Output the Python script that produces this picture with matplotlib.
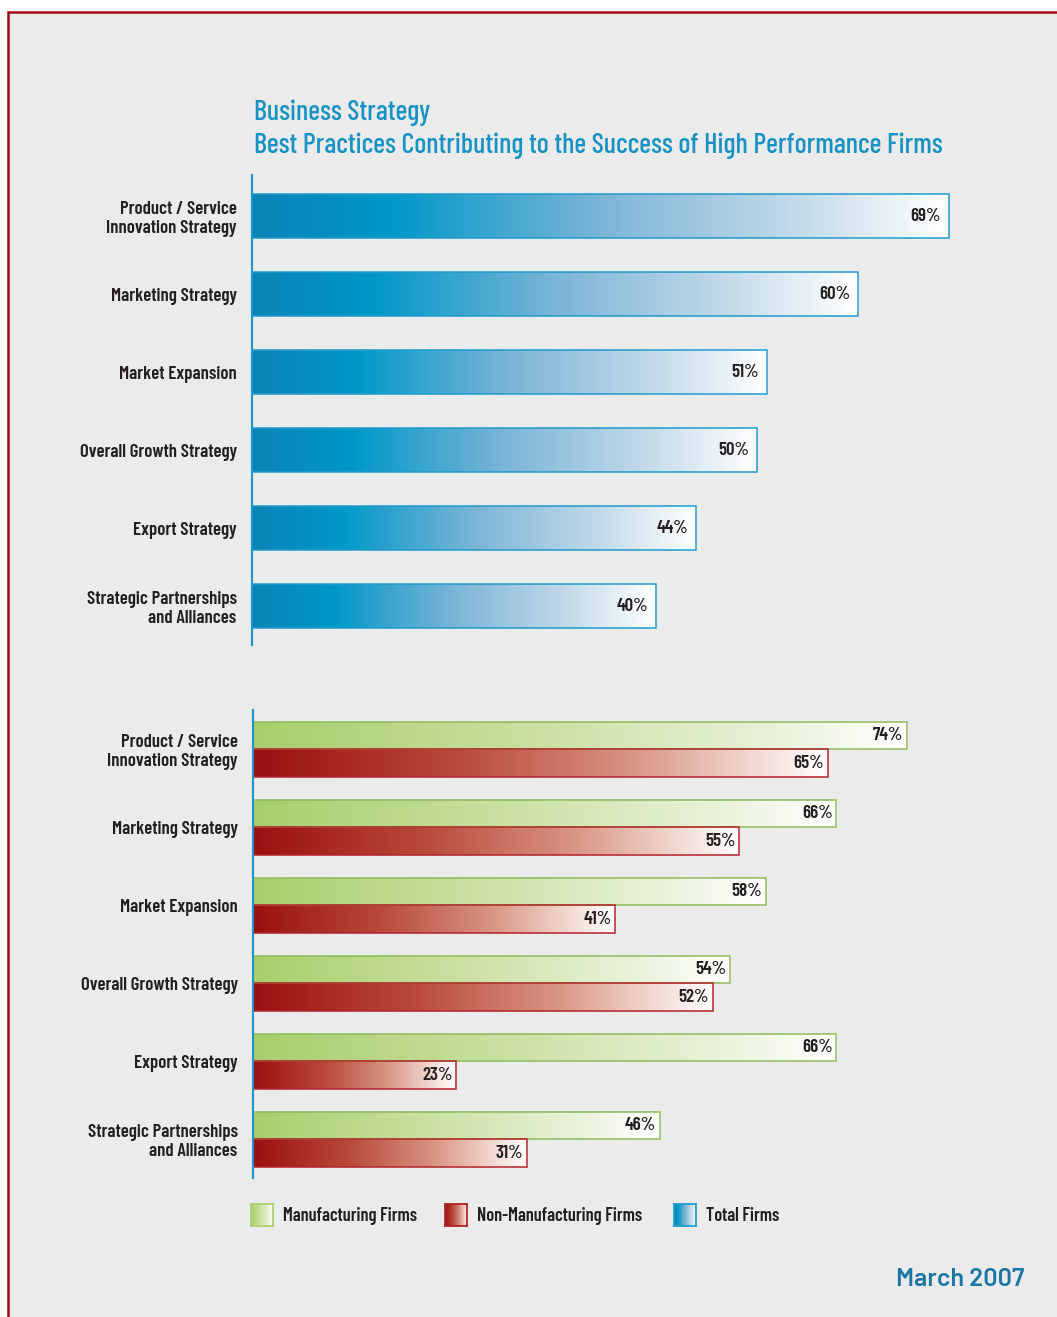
import numpy as np
import matplotlib
matplotlib.use("Agg")
import matplotlib.pyplot as plt
from matplotlib.colors import LinearSegmentedColormap
from matplotlib.patches import Rectangle

categories = ["Product / Service\nInnovation Strategy", "Marketing Strategy",
              "Market Expansion", "Overall Growth Strategy", "Export Strategy",
              "Strategic Partnerships\nand Alliances"]
total_firms = [69, 60, 51, 50, 44, 40]
manufacturing = [74, 66, 58, 54, 66, 46]
non_manufacturing = [65, 55, 41, 52, 23, 31]
legend_labels = ["Manufacturing Firms", "Non-Manufacturing Firms", "Total Firms"]

W, H = 1057, 1317
fig = plt.figure(figsize=(W / 100, H / 100), dpi=100, facecolor="white")

COND = dict(family=["Barlow Condensed", "DejaVu Sans"], fontstretch="condensed")
TXT = "#231f20"
BLUE_T = "#1792c4"

blue_cm = LinearSegmentedColormap.from_list(
    "b", [(0, "#0a84b6"), (0.2, "#0098c8"), (0.5, "#7bb5d7"),
          (0.78, "#c2d9e9"), (1, "#ffffff")])
green_cm = LinearSegmentedColormap.from_list(
    "g", [(0, "#a8ce6a"), (0.45, "#cbe1a4"), (0.8, "#e9f2da"), (1, "#ffffff")])
red_cm = LinearSegmentedColormap.from_list(
    "r", [(0, "#9a1010"), (0.35, "#b9493a"), (0.65, "#d89281"),
          (0.9, "#f5e1db"), (1, "#ffffff")])
grad = np.linspace(0, 1, 256).reshape(1, -1)

# grey panel with the red frame
bg = Rectangle((8 / W, -0.05), 1.2, 1 - 12 / H + 0.05, transform=fig.transFigure,
               facecolor="#ebebeb", edgecolor="#a20d15", linewidth=1.8, zorder=-10)
fig.patches.append(bg)


def px_axes(x0, y0, x1, y1):
    return fig.add_axes([x0 / W, 1 - y1 / H, (x1 - x0) / W, (y1 - y0) / H])


def grad_bar(ax, y0, y1, v, cmap, edge):
    ax.imshow(grad, cmap=cmap, extent=(0, v, y1, y0), aspect="auto",
              interpolation="bicubic", zorder=2)
    ax.barh((y0 + y1) / 2, v, height=abs(y1 - y0), facecolor="none",
            edgecolor=edge, linewidth=1.1, zorder=3)


def style(ax, xmax, ylim):
    ax.set_xlim(0, xmax)
    ax.set_ylim(*ylim)
    ax.patch.set_alpha(0)
    for s in ["top", "right", "bottom"]:
        ax.spines[s].set_visible(False)
    ax.spines["left"].set_color("#1a96c8")
    ax.spines["left"].set_linewidth(1.5)
    ax.spines["left"].set_zorder(5)
    ax.set_xticks([])
    ax.set_yticks(range(len(categories)))
    ax.set_yticklabels(categories, fontsize=13.5, color=TXT, fontweight=600,
                       linespacing=1.12, **COND)
    ax.tick_params(axis="y", length=0, pad=11)


# top chart: total firms
ax1 = px_axes(252, 175, 952, 645)
h = 44 / 78
for i, v in enumerate(total_firms):
    grad_bar(ax1, i - h / 2, i + h / 2, v, blue_cm, "#1f9bcb")
    ax1.text(v - 0.8, i, f"{v}%", ha="right", va="center", fontsize=13.5,
             fontweight=600, color=TXT, zorder=4, **COND)
style(ax1, 700 / 10.1, (5.5, -0.526))

# bottom chart: manufacturing vs non-manufacturing
ax2 = px_axes(253, 710, 953, 1178)
hg, hr = 27 / 78, 28 / 78
for i, (m, n) in enumerate(zip(manufacturing, non_manufacturing)):
    grad_bar(ax2, i - hg, i, m, green_cm, "#8cbc5c")
    grad_bar(ax2, i, i + hr, n, red_cm, "#b3222a")
    ax2.text(m - 0.45, i - hg / 2, f"{m}%", ha="right", va="center",
             fontsize=13.5, fontweight=600, color=TXT, zorder=4, **COND)
    ax2.text(n - 0.45, i + hr / 2, f"{n}%", ha="right", va="center",
             fontsize=13.5, fontweight=600, color=TXT, zorder=4, **COND)
style(ax2, 700 / 8.84, (5.5, -0.5))

# titles
fig.text(254 / W, 1 - 113 / H, "Business Strategy", fontsize=20.3,
         fontweight=500, color=BLUE_T, va="center", ha="left", **COND)
fig.text(254 / W, 1 - 146 / H,
         "Best Practices Contributing to the Success of High Performance Firms",
         fontsize=20.3, fontweight=500, color=BLUE_T, va="center", ha="left", **COND)

# legend swatches
swatches = [(251, green_cm, "#a9d06f"), (445, red_cm, "#b3222a"), (674, blue_cm, "#1f9bcb")]
for (x, cm, ec), lab in zip(swatches, legend_labels):
    sa = px_axes(x, 1204, x + 22, 1226)
    sa.imshow(grad, cmap=cm, aspect="auto", interpolation="bicubic")
    sa.set_xticks([])
    sa.set_yticks([])
    for s in sa.spines.values():
        s.set_color(ec)
        s.set_linewidth(1.3)
    fig.text((x + 32) / W, 1 - 1216 / H, lab, fontsize=13.2, fontweight=600,
             color=TXT, va="center", ha="left", **COND)

fig.text(1024 / W, 1 - 1279 / H, "March 2007", fontsize=18.2, fontweight=600,
         family=["Barlow", "DejaVu Sans"], color="#1b76a3", ha="right", va="center")

fig.savefig("out.png", dpi=100, facecolor=fig.get_facecolor())
